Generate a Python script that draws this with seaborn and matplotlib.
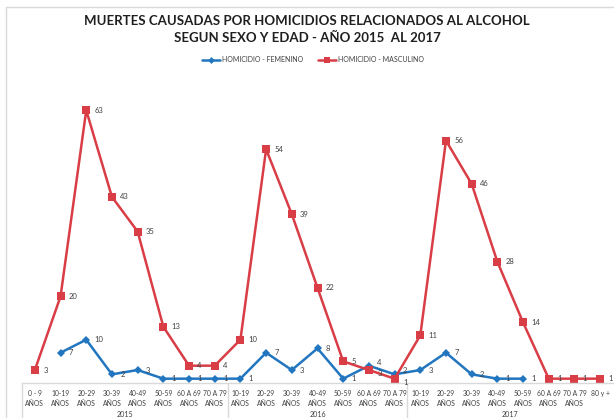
import numpy as np
import pandas as pd
import seaborn as sns
import matplotlib.pyplot as plt
from matplotlib.lines import Line2D
from matplotlib.transforms import blended_transform_factory

# categories (three year groups)
ages_2015 = ["0 - 9", "10-19", "20-29", "30-39", "40-49", "50-59", "60 A 69", "70 A 79"]
ages_2016 = ["10-19", "20-29", "30-39", "40-49", "50-59", "60 A 69", "70 A 79"]
ages_2017 = ["10-19", "20-29", "30-39", "40-49", "50-59", "60 A 69", "70 A 79", "80 y +"]
years = ["2015", "2016", "2017"]

femenino = [np.nan, 7, 10, 2, 3, 1, 1, 1,
            1, 7, 3, 8, 1, 4, 2,
            3, 7, 2, 1, 1, np.nan, np.nan, np.nan]
masculino = [3, 20, 63, 43, 35, 13, 4, 4,
             10, 54, 39, 22, 5, 3, 1,
             11, 56, 46, 28, 14, 1, 1, 1]

series_names = ["HOMICIDIO - FEMENINO", "HOMICIDIO - MASCULINO"]
colors = {"HOMICIDIO - FEMENINO": "#2176BF", "HOMICIDIO - MASCULINO": "#D93D46"}

groups = [ages_2015, ages_2016, ages_2017]
tick_labels = [a + "\nAÑOS" if a != "80 y +" else a for g in groups for a in g]
pos = np.arange(len(tick_labels))

df = pd.concat([
    pd.DataFrame({"pos": pos, "value": femenino, "serie": series_names[0]}),
    pd.DataFrame({"pos": pos, "value": masculino, "serie": series_names[1]}),
], ignore_index=True)

sns.set_style("white")
plt.rcParams["font.family"] = ["Lato", "DejaVu Sans"]

fig = plt.figure(figsize=(6.14, 4.18), dpi=100)
ax = fig.add_axes([22 / 614, 35 / 418, 591 / 614, 303 / 418])

sns.lineplot(data=df, x="pos", y="value", hue="serie", style="serie",
             markers={series_names[0]: "D", series_names[1]: "s"},
             dashes=False, palette=colors, linewidth=1.8,
             markeredgewidth=0, ax=ax, legend=False)
for line, ms in zip(ax.lines, [4, 6]):
    line.set_markersize(ms)

# data labels; where both series nearly meet, push them apart a little
for vals, other, sign in ((femenino, masculino, 1), (masculino, femenino, -1)):
    for x, v, o in zip(pos, vals, other):
        if np.isnan(v):
            continue
        dy = 0
        if not np.isnan(o) and abs(v - o) <= 1.5 and v != o:
            dy = 2.5 if v > o else -2.5
        ax.annotate(f"{int(v)}", (x, v), xytext=(6, dy), textcoords="offset points",
                    ha="left", va="center", fontsize=5.5, color="#404040")

ax.set_xlim(-0.5, len(pos) - 0.5)
ax.set_ylim(0, 70)
ax.set_yticks([])
ax.set_xlabel("")
ax.set_ylabel("")
ax.set_xticks(pos)
ax.set_xticklabels(tick_labels, fontsize=4.9, color="#404040", linespacing=1.5)
ax.tick_params(axis="x", length=0, pad=5)
for s in ["top", "right", "left"]:
    ax.spines[s].set_visible(False)
ax.spines["bottom"].set_color("#D9D9D9")
ax.spines["bottom"].set_linewidth(1)

# year group labels and separators
trans = blended_transform_factory(ax.transData, ax.transAxes)
start = 0
bounds = [-0.5]
for g, yr in zip(groups, years):
    mid = start + (len(g) - 1) / 2
    ax.text(mid, -0.103, yr, transform=trans, ha="center", va="center",
            fontsize=5.1, color="#404040")
    start += len(g)
    bounds.append(start - 0.5)
for b in bounds[:-1]:
    ax.plot([b, b], [0, -0.13], transform=trans, color="#D9D9D9",
            linewidth=1, clip_on=False)

# chart area border (left and top)
fig.add_artist(Line2D([6 / 614, 6 / 614], [0, 1 - 7 / 418], color="#D9D9D9", linewidth=1))
fig.add_artist(Line2D([6 / 614, 1], [1 - 7 / 418, 1 - 7 / 418], color="#D9D9D9", linewidth=1))

fig.text(0.5, 1 - 29.5 / 418, "MUERTES CAUSADAS POR HOMICIDIOS RELACIONADOS AL ALCOHOL\nSEGUN SEXO Y EDAD - AÑO 2015  AL 2017",
         ha="center", va="center", fontsize=9.5, fontweight="bold", color="#1F1F1F",
         linespacing=1.45)

handles = [Line2D([], [], color=colors[series_names[0]], marker="D", markersize=3.5,
                  markeredgewidth=0, linewidth=1.8),
           Line2D([], [], color=colors[series_names[1]], marker="s", markersize=4.5,
                  markeredgewidth=0, linewidth=1.8)]
fig.legend(handles, series_names, loc="center", bbox_to_anchor=(313 / 614, 1 - 60 / 418),
           ncol=2, frameon=False, fontsize=5, handlelength=2.6, handletextpad=0.3,
           columnspacing=2.2, labelcolor="#404040")

fig.savefig("out.png", dpi=100)
plt.close()
